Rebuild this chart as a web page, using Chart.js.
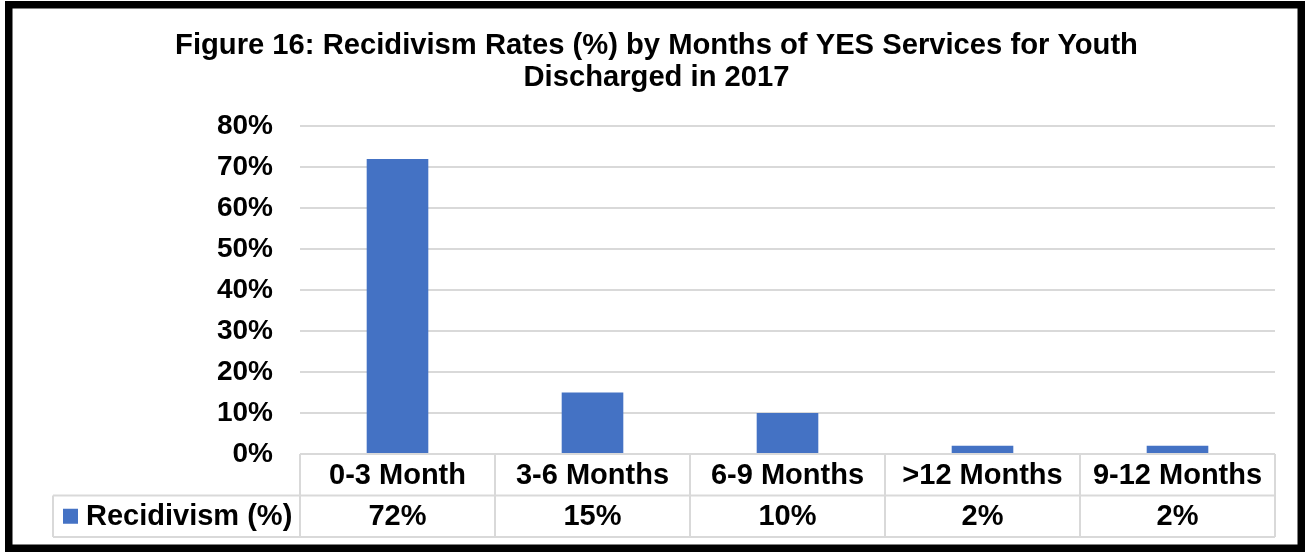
<!DOCTYPE html>
<html>
<head>
<meta charset="utf-8">
<title>Recidivism Rates by Months of YES Services</title>
<script src="https://cdn.jsdelivr.net/npm/chart.js@4"></script>
<style>
    html, body { margin: 0; padding: 0; background: #fff; }
    #wrap { position: relative; width: 1306px; height: 553px; }
</style>
</head>
<body>
<div id="wrap"><canvas id="recidChart" width="1306" height="553"></canvas></div>
<script>
const titleLines = ['Figure 16: Recidivism Rates (%) by Months of YES Services for Youth', 'Discharged in 2017'];
const categories = ['0-3 Month', '3-6 Months', '6-9 Months', '>12 Months', '9-12 Months'];
const seriesName = 'Recidivism (%)';
const recidivism = [72, 15, 10, 2, 2];
const yMax = 80;
const yStep = 10;

const FONT = "'Liberation Sans', Arial, sans-serif";
const BLUE = '#4472C4';
const GRID = '#d9d9d9';

// data table under the bars + black frame around everything
const dataTable = {
    id: 'dataTable',
    afterDraw(chart) {
        const ctx = chart.ctx;
        const x = chart.scales.x;
        const area = chart.chartArea;
        const rowH = 41.5;
        const top = area.bottom;
        const mid = top + rowH;
        const bot = top + rowH * 2;
        const half = (x.getPixelForValue(1) - x.getPixelForValue(0)) / 2;
        const legLeft = 53;

        ctx.save();
        ctx.strokeStyle = GRID;
        ctx.lineWidth = 2;
        ctx.beginPath();
        ctx.moveTo(area.left, top); ctx.lineTo(area.right, top);
        ctx.moveTo(legLeft, mid); ctx.lineTo(area.right, mid);
        ctx.moveTo(legLeft, bot); ctx.lineTo(area.right, bot);
        ctx.moveTo(legLeft, mid); ctx.lineTo(legLeft, bot);
        categories.forEach((c, i) => {
            const px = x.getPixelForValue(i) - half;
            ctx.moveTo(px, top); ctx.lineTo(px, bot);
        });
        ctx.moveTo(area.right, top); ctx.lineTo(area.right, bot);
        ctx.stroke();

        ctx.fillStyle = '#000';
        ctx.font = 'bold 29px ' + FONT;
        ctx.textAlign = 'center';
        ctx.textBaseline = 'middle';
        categories.forEach((c, i) => {
            const cx = x.getPixelForValue(i);
            ctx.fillText(c, cx, top + rowH / 2 + 1);
            ctx.fillText(recidivism[i] + '%', cx, mid + rowH / 2 + 1);
        });

        // legend key in the first column
        ctx.fillStyle = BLUE;
        ctx.fillRect(legLeft + 10, mid + rowH / 2 - 7.5, 15, 15);
        ctx.fillStyle = '#000';
        ctx.textAlign = 'left';
        ctx.fillText(seriesName, legLeft + 33, mid + rowH / 2 + 1);

        // outer frame
        ctx.strokeStyle = '#000';
        ctx.lineWidth = 7.5;
        ctx.strokeRect(8.75, 4.75, 1292.5, 543.5);
        ctx.restore();
    }
};

const config = {
    type: 'bar',
    data: {
        labels: categories,
        datasets: [{
            label: seriesName,
            data: recidivism,
            backgroundColor: BLUE,
            borderWidth: 0,
            categoryPercentage: 1,
            barPercentage: 0.316
        }]
    },
    options: {
        responsive: false,
        animation: false,
        layout: { padding: { left: 38, right: 31, top: 0, bottom: 99 } },
        plugins: {
            legend: { display: false },
            tooltip: { enabled: false },
            title: {
                display: true,
                text: titleLines,
                color: '#000',
                font: { family: FONT, size: 29.2, weight: 'bold', lineHeight: 1.1 },
                padding: { top: 30, bottom: 32 }
            }
        },
        scales: {
            x: {
                display: false,
                grid: { display: false }
            },
            y: {
                min: 0,
                max: yMax,
                afterFit(scale) { scale.width = 262; },
                border: { display: false },
                grid: { color: GRID, lineWidth: 2, drawTicks: false },
                ticks: {
                    stepSize: yStep,
                    padding: 27,
                    color: '#000',
                    font: { family: FONT, size: 28, weight: 'bold' },
                    callback: v => v + '%'
                }
            }
        }
    },
    plugins: [dataTable]
};

window.onload = function() {
    const ctx = document.getElementById('recidChart').getContext('2d');
    new Chart(ctx, config);
};
</script>
</body>
</html>
